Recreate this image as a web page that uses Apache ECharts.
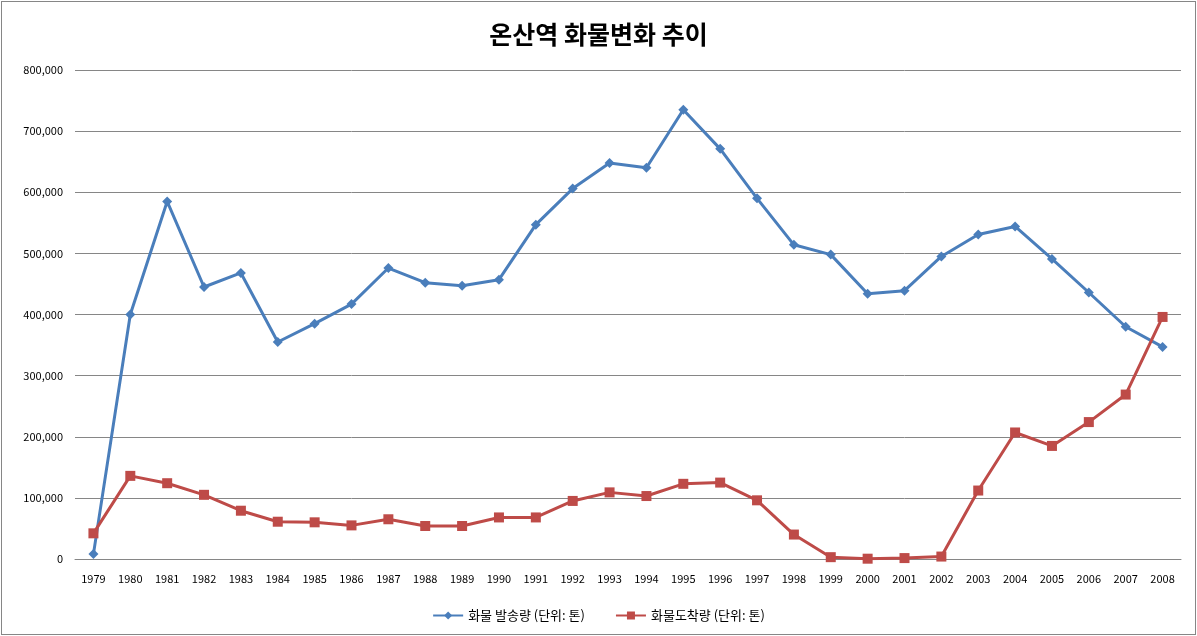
<!DOCTYPE html>
<html>
<head>
  <meta charset="utf-8">
  <title>온산역 화물변화 추이</title>
  <script src="https://cdn.jsdelivr.net/npm/echarts@6/dist/echarts.min.js"></script>
  <style>
    html, body { margin: 0; padding: 0; background: #fff; }
    #chart {
      position: absolute; left: 1px; top: 1px;
      width: 1193px; height: 632px;
      border: 1px solid #868686;
    }
  </style>
</head>
<body>
<div id="chart"></div>
<script>
  // 연도
  var years = ['1979', '1980', '1981', '1982', '1983', '1984', '1985', '1986', '1987', '1988',
    '1989', '1990', '1991', '1992', '1993', '1994', '1995', '1996', '1997', '1998',
    '1999', '2000', '2001', '2002', '2003', '2004', '2005', '2006', '2007', '2008'];
  // 화물 발송량 (단위: 톤)
  var balsong = [8000, 400000, 585000, 445000, 468000, 355000, 385000, 417000, 476000, 452000,
    447000, 457000, 547000, 606000, 648000, 640000, 735000, 671000, 590000, 514000,
    498000, 434000, 439000, 495000, 531000, 544000, 491000, 436000, 380000, 347000];
  // 화물도착량 (단위: 톤)
  var dochak = [42000, 136000, 124000, 105000, 79000, 61000, 60000, 55000, 65000, 54000,
    54000, 68000, 68000, 95000, 109000, 103000, 123000, 125000, 96000, 40000,
    3000, 500, 1500, 4000, 112000, 207000, 185000, 224000, 269000, 396000];

  var fontKr = '"Noto Sans CJK KR", "Noto Sans", sans-serif';
  var chart = echarts.init(document.getElementById('chart'));
  chart.setOption({
    animation: false,
    textStyle: { fontFamily: fontKr },
    title: {
      text: '온산역 화물변화 추이',
      left: 'center',
      top: 15,
      textStyle: { fontSize: 25, fontWeight: 'bold', color: '#000', fontFamily: fontKr }
    },
    legend: {
      bottom: 7,
      left: 'center',
      itemGap: 30,
      itemWidth: 30,
      itemHeight: 10,
      textStyle: { fontSize: 13, color: '#000', fontFamily: fontKr },
      data: ['화물 발송량 (단위: 톤)', '화물도착량 (단위: 톤)']
    },
    grid: { left: 73, right: 14, top: 68, bottom: 75 },
    xAxis: {
      type: 'category',
      data: years,
      boundaryGap: true,
      axisLine: { lineStyle: { color: '#868686' } },
      axisTick: { show: false },
      axisLabel: { color: '#000', fontSize: 11, margin: 14, interval: 0 }
    },
    yAxis: {
      type: 'value',
      min: 0,
      max: 800000,
      interval: 100000,
      axisLine: { show: false },
      axisTick: { show: false },
      splitLine: { lineStyle: { color: '#868686' } },
      axisLabel: {
        color: '#000', fontSize: 11, margin: 12,
        formatter: function (v) { return v.toLocaleString('en-US'); }
      }
    },
    series: [
      {
        name: '화물 발송량 (단위: 톤)',
        type: 'line',
        data: balsong,
        symbol: 'diamond',
        symbolSize: 10,
        itemStyle: { color: '#4a7ebb' },
        lineStyle: { width: 3, color: '#4a7ebb' }
      },
      {
        name: '화물도착량 (단위: 톤)',
        type: 'line',
        data: dochak,
        symbol: 'rect',
        symbolSize: 10,
        itemStyle: { color: '#be4b48' },
        lineStyle: { width: 3, color: '#be4b48' }
      }
    ]
  });
  window.onresize = function () {
    chart.resize();
  };
</script>
</body>
</html>
